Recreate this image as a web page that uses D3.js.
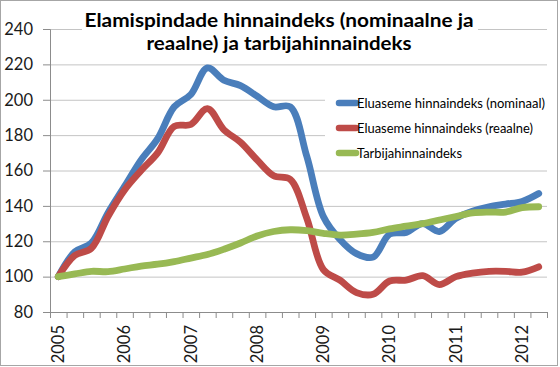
<!DOCTYPE html>
<html><head><meta charset="utf-8">
<script src="https://cdn.jsdelivr.net/npm/d3@7/dist/d3.min.js"></script>
<style>
html,body{margin:0;padding:0;background:#fff;}
svg{display:block;font-family:Lato,"Open Sans",sans-serif;}
</style></head>
<body>
<svg id="chart" width="560" height="367"></svg>
<script>
// ---- data ----
const quarters = ["2005 Q1","2005 Q2","2005 Q3","2005 Q4","2006 Q1","2006 Q2","2006 Q3","2006 Q4",
  "2007 Q1","2007 Q2","2007 Q3","2007 Q4","2008 Q1","2008 Q2","2008 Q3","2008 Q4",
  "2009 Q1","2009 Q2","2009 Q3","2009 Q4","2010 Q1","2010 Q2","2010 Q3","2010 Q4",
  "2011 Q1","2011 Q2","2011 Q3","2011 Q4","2012 Q1","2012 Q2"];
const yearLabels = ["2005","2006","2007","2008","2009","2010","2011","2012"];
const nominal = [100,114,119,136,151,166,178,196,203,218,211,208,202,196,196,168,
  134,121,113,111,124,125,130,125.5,133,137,139.5,141,142.5,147];
const real = [100,112,116,134,149,160,170,185,186,195,183,176,166,157,155,133,
  104,98,91,90,97.5,98,100.5,95.5,100,102,103,103,102.5,105.5];
const cpi = [100,101.5,103,102.8,104.3,106,107,108.5,110.5,112.5,115.5,119,123,125.5,126.5,126,
  124.5,123.5,124,125,127,128.5,130,132,134,136,136.5,136.5,139,139.5];
const yTicks = [80,100,120,140,160,180,200,220,240];
const seriesNames = ["Eluaseme hinnaindeks (nominaal)","Eluaseme hinnaindeks (reaalne)","Tarbijahinnaindeks"];
const seriesColors = ["#4a7ebb","#be4b48","#98b954"];
const titleLines = ["Elamispindade hinnaindeks (nominaalne ja","reaalne) ja tarbijahinnaindeks"];

// ---- layout ----
const svg = d3.select("#chart");
const L = 50, R = 547, T = 29, B = 312;

svg.append("rect").attr("x",0.5).attr("y",0.5).attr("width",557).attr("height",365)
  .attr("fill","#fff").attr("stroke","#a6a6a6");

const x = d3.scaleBand().domain(quarters).range([L,R]).paddingInner(0).paddingOuter(0);
const xb = d3.scaleLinear().domain([0,quarters.length]).range([L,R]);
const y = d3.scaleLinear().domain([80,240]).range([B,T]);
const cx = q => x(q) + x.bandwidth()/2;

// gridlines
const grid = svg.append("g").attr("transform",`translate(${L},0)`)
  .call(d3.axisLeft(y).tickValues(yTicks.filter(v=>v>80)).tickSize(-(R-L)).tickFormat(""));
grid.select(".domain").remove();
grid.selectAll("line").attr("stroke","#c4c4c4").attr("stroke-width",1);

// y axis
const ya = svg.append("g").attr("transform",`translate(${L},0)`)
  .call(d3.axisLeft(y).tickValues(yTicks).tickSize(7).tickPadding(10).tickFormat(d3.format("d")));
ya.select(".domain").attr("stroke","#8c8c8c");
ya.selectAll("line").attr("stroke","#8c8c8c");
ya.selectAll("text").attr("font-size",16.5).attr("fill","#1a1a1a").attr("font-family","Lato");

// x axis: boundary ticks
const xt = svg.append("g").attr("transform",`translate(0,${B})`)
  .call(d3.axisBottom(xb).tickValues(d3.range(quarters.length+1)).tickSize(6).tickFormat(""));
xt.select(".domain").attr("stroke","#8c8c8c");
xt.selectAll("line").attr("stroke","#8c8c8c");

// x labels (years at Q1)
const q1 = quarters.filter(q => q.endsWith("Q1"));
const xl = svg.append("g").attr("transform",`translate(0,${B})`)
  .call(d3.axisBottom(x).tickValues(q1).tickSize(0).tickFormat((d,i)=>yearLabels[i]));
xl.select(".domain").remove();
xl.selectAll("text")
  .attr("font-size",16.5).attr("fill","#1a1a1a").attr("font-family","Lato")
  .attr("transform","rotate(-90)")
  .attr("text-anchor","end").attr("dy","0.35em")
  .attr("x",-13).attr("y",0);

// title box & legend box (white, covering gridlines)
svg.append("rect").attr("x",82).attr("y",5).attr("width",396).attr("height",52).attr("fill","#fff");
svg.append("rect").attr("x",325).attr("y",88).attr("width",222).attr("height",76).attr("fill","#fff");

// lines
const line = d3.line().x((d,i)=>cx(quarters[i])).y(d=>y(d)).curve(d3.curveCatmullRom.alpha(0.5));
[nominal, real, cpi].forEach((s,k)=>{
  svg.append("path").datum(s).attr("d",line).attr("fill","none")
    .attr("stroke",seriesColors[k]).attr("stroke-width",6.8)
    .attr("stroke-linejoin","round").attr("stroke-linecap","round");
});

// title
const title = svg.append("g");
const tw = [389, 265], tb = [27, 50];
titleLines.forEach((t,i)=>{
  title.append("text").attr("x",279).attr("y",tb[i]).attr("text-anchor","middle")
    .attr("font-family","Lato").attr("font-weight","bold").attr("font-size",19.5)
    .attr("fill","#000").attr("textLength",tw[i]).attr("lengthAdjust","spacingAndGlyphs")
    .text(t);
});

// legend
const lg = svg.append("g");
const lw = [188, 176, 105];
seriesNames.forEach((n,k)=>{
  const yy = 103 + k*25;
  lg.append("line").attr("x1",339).attr("x2",356).attr("y1",yy).attr("y2",yy)
    .attr("stroke",seriesColors[k]).attr("stroke-width",6.5).attr("stroke-linecap","round");
  lg.append("text").attr("x",357).attr("y",yy).attr("dy","0.35em")
    .attr("font-family","Lato").attr("font-size",14).attr("fill","#000")
    .attr("textLength",lw[k]).attr("lengthAdjust","spacingAndGlyphs").text(n);
});
</script>
</body></html>
